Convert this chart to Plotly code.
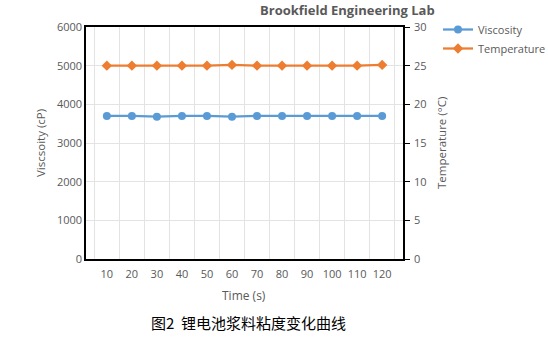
import plotly.graph_objects as go

time_s = ["10", "20", "30", "40", "50", "60", "70", "80", "90", "100", "110", "120"]
viscosity = [3700, 3700, 3680, 3700, 3700, 3680, 3700, 3700, 3700, 3700, 3700, 3700]
temperature = [25.0, 25.0, 25.0, 25.0, 25.0, 25.1, 25.0, 25.0, 25.0, 25.0, 25.0, 25.1]

BLUE = "#5B9BD5"
ORANGE = "#ED7D31"
GRAY = "#595959"
FONT = "Open Sans"

fig = go.Figure()
fig.add_trace(go.Scatter(x=time_s, y=viscosity, name="Viscosity", mode="lines+markers",
                         line=dict(color=BLUE, width=2.25),
                         marker=dict(symbol="circle", size=8, color=BLUE)))
fig.add_trace(go.Scatter(x=time_s, y=temperature, name="Temperature", mode="lines+markers",
                         yaxis="y2",
                         line=dict(color=ORANGE, width=2.25),
                         marker=dict(symbol="diamond", size=8, color=ORANGE)))

fig.update_layout(
    width=548, height=338,
    margin=dict(l=86, r=145, t=27, b=79, autoexpand=False),
    paper_bgcolor="white", plot_bgcolor="white",
    font=dict(family=FONT, size=11, color=GRAY),
    showlegend=True,
    legend=dict(xref="container", yref="container", x=438 / 548, y=1 - 15 / 338,
                xanchor="left", yanchor="top",
                font=dict(family=FONT, size=11, color=GRAY),
                itemwidth=30, bgcolor="rgba(0,0,0,0)"),
    xaxis=dict(type="category", tickson="boundaries", ticks="", tickangle=0, showgrid=True,
               gridcolor="#E3E3E3", gridwidth=1, showline=True, linecolor="black",
               linewidth=1.5, mirror=True, tickfont=dict(size=11, color=GRAY),
               ticklabelstandoff=4, zeroline=False),
    yaxis=dict(range=[0, 6000], dtick=1000, showgrid=True, gridcolor="#E3E3E3",
               showline=True, linecolor="black", linewidth=1.5, ticks="",
               tickfont=dict(size=11, color=GRAY), zeroline=False),
    yaxis2=dict(range=[0, 30], dtick=5, overlaying="y", side="right", showgrid=False,
                showline=True, linecolor="black", linewidth=1.5, ticks="outside",
                ticklen=5, tickcolor="black", tickfont=dict(size=11, color=GRAY),
                ticklabelstandoff=2, zeroline=False),
    annotations=[
        dict(text="<b>Brookfield Engineering Lab</b>", xref="paper", yref="paper",
             x=(347 - 86) / 317, y=1 + (27 - 10) / 232, xanchor="center", yanchor="middle",
             showarrow=False, font=dict(size=13, color=GRAY, family=FONT)),
        dict(text="Viscsoity (cP)", xref="paper", yref="paper", x=(40 - 86) / 317, y=0.5,
             xanchor="center", yanchor="middle",
             textangle=-90, showarrow=False, font=dict(size=11.5, color=GRAY)),
        dict(text="Temperature (°C)", xref="paper", yref="paper", x=(441 - 86) / 317, y=0.5,
             xanchor="center", yanchor="middle",
             textangle=-90, showarrow=False, font=dict(size=11.5, color=GRAY)),
        dict(text="Time (s)", xref="paper", yref="paper", x=(244 - 86) / 317,
             y=(259 - 295) / 232, xanchor="center", yanchor="middle",
             showarrow=False, font=dict(size=12, color=GRAY)),
        dict(text="图2  锂电池浆料粘度变化曲线", xref="paper", yref="paper",
             x=(248 - 86) / 317, y=(259 - 322) / 232, xanchor="center", yanchor="middle",
             showarrow=False, font=dict(size=15, color="black", family="Noto Sans CJK SC")),
    ],
)

fig.write_html("out.html")
